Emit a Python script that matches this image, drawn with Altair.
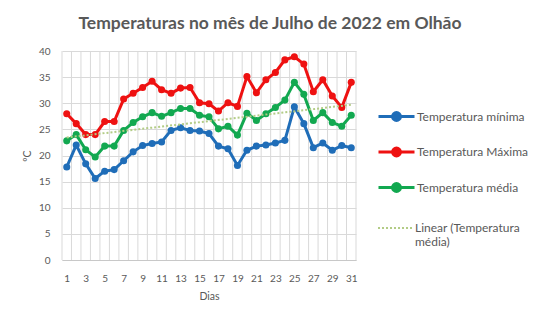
import altair as alt
import pandas as pd

days = list(range(1, 32))
tmin = [17.8, 22.0, 18.4, 15.6, 17.0, 17.3, 19.0, 20.7, 21.9, 22.3, 22.6, 24.8, 25.3, 24.8, 24.7, 24.2,
        21.8, 21.3, 18.1, 21.0, 21.8, 22.0, 22.4, 22.9, 29.3, 26.1, 21.5, 22.4, 21.0, 21.9, 21.5]
tmax = [28.0, 26.1, 24.0, 24.0, 26.5, 26.5, 30.8, 31.9, 33.0, 34.2, 32.6, 31.9, 32.9, 33.0, 30.1, 29.9,
        28.5, 30.1, 29.4, 35.1, 32.0, 34.5, 35.9, 38.3, 38.9, 37.5, 32.2, 34.5, 31.4, 29.2, 34.0]
tmed = [22.8, 24.0, 21.1, 19.7, 21.8, 21.8, 24.8, 26.3, 27.4, 28.2, 27.5, 28.2, 29.0, 29.0, 27.7, 27.4,
        25.1, 25.6, 23.9, 28.1, 26.7, 28.0, 29.2, 30.6, 34.0, 31.7, 26.7, 28.2, 26.3, 25.6, 27.7]
y_ticks = [0, 5, 10, 15, 20, 25, 30, 35, 40]
x_label_days = [d for d in days if d % 2 == 1]

S_MIN = "Temperatura mínima"
S_MAX = "Temperatura Máxima"
S_MED = "Temperatura média"
TREND = "Linear (Temperatura média)"
series_names = [S_MIN, S_MAX, S_MED]
series_colors = ["#1F6DB8", "#EE1111", "#12A850"]
TREND_COLOR = "#B3CC86"

rows = []
for name, vals in zip(series_names, [tmin, tmax, tmed]):
    for d, v in zip(days, vals):
        rows.append({"dia": d, "temp": v, "serie": name})
df = pd.DataFrame(rows)
med_df = pd.DataFrame({"dia": days, "temp": tmed, "trend": TREND})
grid_df = pd.DataFrame({"b": [d - 0.5 for d in days] + [days[-1] + 0.5]})

FONT = "Lato"
GRID = "#D9D9D9"
TXT = "#595959"

xscale = alt.Scale(domain=[0.5, 31.5], nice=False, zero=False)
yscale = alt.Scale(domain=[0, 40], nice=False)

xaxis = alt.Axis(values=x_label_days, title="Dias", grid=False, ticks=False, domain=True,
                 domainColor="#C8C8C8", labelPadding=13, labelFlush=False, labelOverlap=False,
                 titlePadding=8)
yaxis = alt.Axis(values=y_ticks, title="ºC", grid=True, gridColor=GRID, ticks=False, domain=False,
                 labelPadding=12, titlePadding=6)

X = alt.X("dia:Q", scale=xscale, axis=xaxis)
Y = alt.Y("temp:Q", scale=yscale, axis=yaxis)

color = alt.Color(
    "serie:N",
    scale=alt.Scale(domain=series_names, range=series_colors),
    legend=alt.Legend(
        title=None, orient="none", legendX=315, legendY=46, direction="vertical",
        symbolType="M-1,0L1,0M0.22,0A0.22,0.22,0,1,1,-0.22,0A0.22,0.22,0,1,1,0.22,0Z",
        symbolSize=1296, symbolStrokeWidth=3, labelOffset=1, rowPadding=5.5, padding=0,
        labelLimit=200,
    ),
)

vgrid = alt.Chart(grid_df).mark_rule(color=GRID, strokeWidth=1).encode(
    x=alt.X("b:Q", scale=xscale, axis=xaxis))

lines = alt.Chart(df).mark_line(strokeWidth=3).encode(x=X, y=Y, color=color)
points = alt.Chart(df).mark_circle(size=50, opacity=1).encode(x=X, y=Y, color=color)

trend = alt.Chart(med_df).transform_regression(
    "dia", "temp", groupby=["trend"]
).mark_line(color=TREND_COLOR, strokeWidth=2).encode(
    x=X, y=Y,
    strokeDash=alt.StrokeDash(
        "trend:N",
        scale=alt.Scale(domain=[TREND], range=[[2, 2]]),
        legend=alt.Legend(
            title=None, orient="none", legendX=315, legendY=158, symbolType="stroke",
            symbolSize=1296, symbolStrokeColor=TREND_COLOR, symbolStrokeWidth=2,
            labelOffset=0, padding=0, labelLimit=200,
            labelExpr="['Linear (Temperatura', 'média)']",
        ),
    ),
)

chart = alt.layer(vgrid, lines, points, trend).properties(
    width=294, height=209,
    padding={"left": 62, "top": 51, "right": 182, "bottom": 63},
    autosize=alt.AutoSizeParams(type="none"),
    background="white",
    title=alt.TitleParams(
        "Temperaturas no mês de Julho de 2022 em Olhão",
        font=FONT, fontSize=17.5, fontWeight="bold", color=TXT,
        anchor="middle", frame="group", dx=61, offset=14,
    ),
).configure_axis(
    labelFont=FONT, labelFontSize=10, labelColor=TXT,
    titleFont=FONT, titleFontSize=10.5, titleColor=TXT, titleFontWeight="normal",
).configure_legend(
    labelFont=FONT, labelFontSize=12, labelColor=TXT,
).configure_view(stroke="transparent")

chart.save("out.html", embed_options={"renderer": "svg", "actions": False})
